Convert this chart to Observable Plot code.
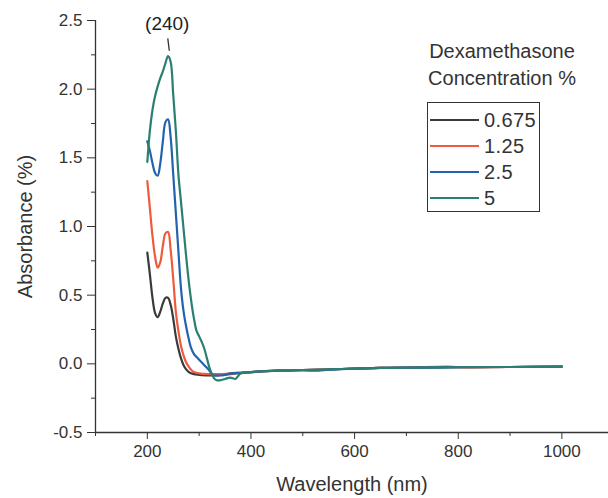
<!DOCTYPE html>
<html><head><meta charset="utf-8">
<script src="https://cdn.jsdelivr.net/npm/d3@7"></script>
<script src="https://cdn.jsdelivr.net/npm/@observablehq/plot@0.6"></script>
<style>
body{margin:0;background:#fff;font-family:"Liberation Sans",Arial,sans-serif;color:#333;}
#wrap{position:relative;width:608px;height:498px;overflow:hidden;}
#legend-title{position:absolute;left:402px;top:38px;width:200px;text-align:center;font-size:20px;line-height:27px;color:#333;}
#legend{position:absolute;left:427px;top:102px;width:111px;height:108px;border:1.5px solid #333;}
.item{position:absolute;left:2px;height:24px;display:flex;align-items:center;font-size:20px;letter-spacing:0.4px;color:#333;}
.item span.sw{display:inline-block;width:49px;height:2px;margin-right:5px;}
</style></head><body><div id="wrap"></div>
<script>
// Series names and colours
const seriesNames = ["0.675", "1.25", "2.5", "5"];
const seriesColors = ["#3a3a3a", "#ee5a3c", "#2262b0", "#2a8070"];

// 0.675 %
const wl_0675 = [200,205,210,215,220,225,230,235,240,245,250,255,260,265,270,275,280,290,300,320,340,360,400,450,500,550,600,650,700,800,900,1000];
const abs_0675 = [0.81,0.65,0.48,0.37,0.34,0.38,0.44,0.48,0.48,0.43,0.33,0.20,0.11,0.04,-0.01,-0.04,-0.06,-0.075,-0.08,-0.085,-0.08,-0.075,-0.06,-0.05,-0.045,-0.04,-0.035,-0.03,-0.028,-0.025,-0.023,-0.02];

// 1.25 %
const wl_125 = [200,205,210,215,220,225,230,235,240,245,250,255,260,265,270,275,280,285,290,300,320,340,360,400,450,500,550,600,650,700,780,800,900,1000];
const abs_125 = [1.33,1.13,0.93,0.78,0.70,0.74,0.86,0.95,0.96,0.83,0.62,0.38,0.24,0.13,0.06,0.01,-0.02,-0.045,-0.06,-0.07,-0.075,-0.075,-0.07,-0.06,-0.05,-0.045,-0.04,-0.035,-0.03,-0.028,-0.02,-0.025,-0.023,-0.02];

// 2.5 %
const wl_25 = [200,205,210,215,220,225,230,235,240,245,250,255,260,265,270,275,280,285,290,295,300,310,320,325,330,340,350,360,380,400,450,500,530,550,600,650,700,800,900,1000];
const abs_25 = [1.62,1.55,1.46,1.39,1.37,1.46,1.62,1.76,1.78,1.65,1.38,1.10,0.82,0.55,0.38,0.27,0.18,0.11,0.07,0.05,0.03,-0.01,-0.05,-0.075,-0.085,-0.085,-0.08,-0.07,-0.065,-0.06,-0.05,-0.048,-0.05,-0.042,-0.035,-0.03,-0.028,-0.025,-0.023,-0.02];

// 5 %
const wl_5 = [200,205,210,215,220,225,230,235,240,245,250,255,260,265,270,275,280,285,290,295,300,305,310,315,320,325,330,335,340,350,360,370,375,380,400,450,500,550,600,650,700,800,900,1000];
const abs_5 = [1.47,1.70,1.85,1.95,2.02,2.08,2.13,2.19,2.24,2.20,1.96,1.70,1.38,1.18,0.98,0.78,0.60,0.45,0.33,0.24,0.20,0.16,0.11,0.04,-0.03,-0.08,-0.11,-0.12,-0.12,-0.11,-0.10,-0.11,-0.09,-0.07,-0.06,-0.05,-0.045,-0.04,-0.035,-0.03,-0.028,-0.025,-0.023,-0.02];

// Axis ticks
const xMajorTicks = [200, 400, 600, 800, 1000];
const xMinorTicks = [100, 300, 500, 700, 900];
const yMajorTicks = [-0.5, 0, 0.5, 1.0, 1.5, 2.0, 2.5];
const yMinorTicks = [-0.25, 0.25, 0.75, 1.25, 1.75, 2.25];

// Peak annotation
const peakLabel = ["(240)"];
const peakWl = 240;

const xLabel = "Wavelength (nm)";
const yLabel = "Absorbance (%)";
const legendTitle = ["Dexamethasone", "Concentration %"];

const wls = [wl_0675, wl_125, wl_25, wl_5];
const abss = [abs_0675, abs_125, abs_25, abs_5];
const rows = [];
seriesNames.forEach((s, i) => wls[i].forEach((w, j) => rows.push({series: s, wl: w, abs: abss[i][j]})));

const font = "'Liberation Sans', Arial, sans-serif";
const plot = Plot.plot({
  width: 608, height: 498,
  marginLeft: 95, marginRight: 0, marginTop: 20, marginBottom: 66,
  x: {domain: [100, 1090]},
  y: {domain: [-0.5, 2.5]},
  color: {domain: seriesNames, range: seriesColors},
  style: {fontFamily: font, color: "#333", background: "#fff", overflow: "visible"},
  marks: [
    Plot.axisY(yMajorTicks, {tickSize: 8, tickPadding: 5, fontSize: 17, tickFormat: d => d.toFixed(1), label: null, stroke: "#333"}),
    Plot.axisY(yMinorTicks, {tickSize: 4, tickFormat: () => "", label: null, stroke: "#333"}),
    Plot.axisY([], {tickSize: 0, fontSize: 20, label: yLabel, labelAnchor: "center", labelOffset: 78, labelArrow: "none"}),
    Plot.axisX(xMajorTicks, {tickSize: 7, tickPadding: 5, fontSize: 17, tickFormat: d => String(d), label: null, stroke: "#333"}),
    Plot.axisX(xMinorTicks, {tickSize: 4, tickFormat: () => "", label: null, stroke: "#333"}),
    Plot.axisX([], {tickSize: 0, fontSize: 20, label: xLabel, labelAnchor: "center", labelOffset: 58, labelArrow: "none"}),
    Plot.ruleX([100], {stroke: "#333", strokeWidth: 1.3}),
    Plot.ruleY([-0.5], {stroke: "#333", strokeWidth: 1.3}),
    Plot.line(rows, {x: "wl", y: "abs", z: "series", stroke: "series", strokeWidth: 2.2, curve: "catmull-rom"}),
    Plot.text(peakLabel, {x: peakWl - 1.5, y: 2.475, text: d => d, fontSize: 19, fill: "#222"}),
    Plot.link([peakWl], {x1: d => d - 0.5, y1: 2.37, x2: d => d + 2.5, y2: 2.28, stroke: "#333", strokeWidth: 1.3})
  ]
});
const wrap = document.getElementById("wrap");
wrap.appendChild(plot);

const lt = document.createElement("div");
lt.id = "legend-title";
lt.innerHTML = legendTitle.join("<br>");
wrap.appendChild(lt);
const lg = document.createElement("div");
lg.id = "legend";
seriesNames.forEach((s, i) => {
  const it = document.createElement("div");
  it.className = "item";
  it.style.top = (5 + i * 26) + "px";
  it.innerHTML = `<span class="sw" style="background:${seriesColors[i]}"></span>${s}`;
  lg.appendChild(it);
});
wrap.appendChild(lg);
</script></body></html>
